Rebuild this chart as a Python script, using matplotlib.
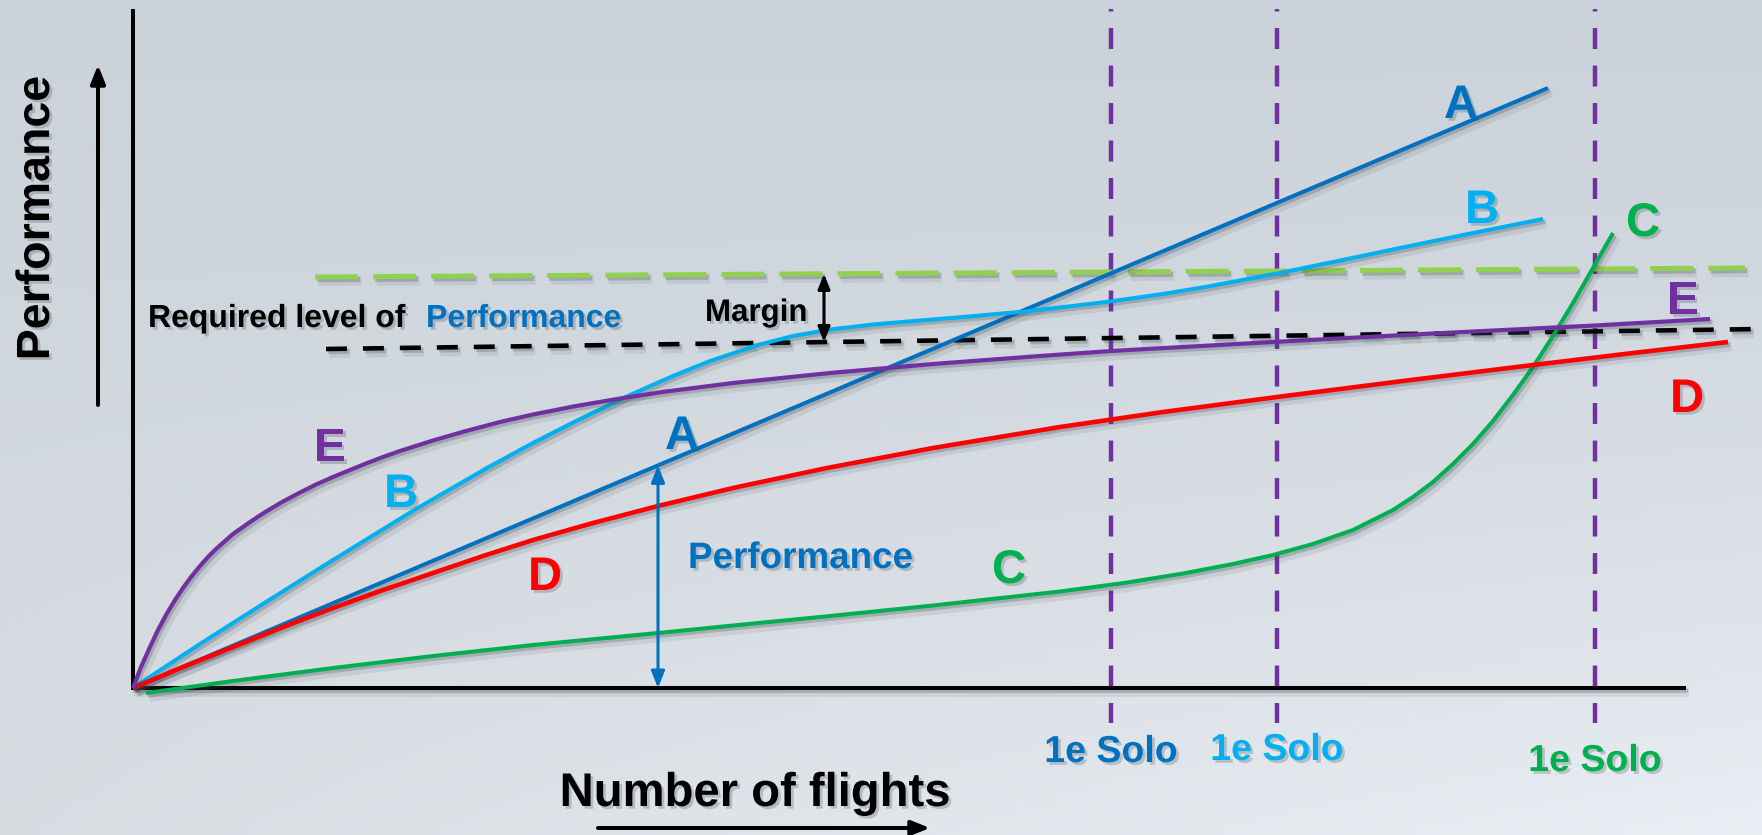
import numpy as np
import matplotlib
matplotlib.use("Agg")
import matplotlib.pyplot as plt
import matplotlib.patheffects as pe

plt.rcParams["font.family"] = ["Liberation Sans", "DejaVu Sans"]
plt.rcParams["font.weight"] = "bold"
plt.rcParams["lines.scale_dashes"] = False

# learning curves: number of flights (x) against performance (y), arbitrary units
a_x = [0, 1415]
a_y = [0, 600]

b_x = [0, 67, 133, 200, 283, 354, 400, 443, 497, 540, 577, 625, 660, 697, 740, 769, 830,
       897, 973, 1030, 1075, 1144, 1200, 1267, 1340, 1410]
b_y = [0, 44, 86, 128, 179, 220, 245, 267, 293, 312, 327, 343, 352, 358.5, 363.5, 366, 371,
       377, 386, 394, 401.5, 414.5, 426, 440, 455, 469]

c_x = [13, 100, 200, 300, 400, 525, 600, 697, 800, 927, 991, 1050, 1100, 1140, 1180, 1220,
       1260, 1280, 1300, 1320, 1340, 1360, 1380, 1400, 1420, 1440, 1460, 1480]
c_y = [-5, 7, 20, 32, 43, 55, 62.5, 72, 82.5, 96.5, 105, 114.5, 124, 133, 144, 158,
       178, 191, 206, 224, 244, 267, 293, 321, 352, 385, 420, 455]

d_x = [0, 50, 100, 150, 200, 250, 300, 350, 400, 460, 525, 600, 694, 800, 927, 1030,
       1144, 1270, 1400, 1500, 1595]
d_y = [0, 21, 41, 61, 80, 98, 115, 132, 148, 165, 182, 200, 220, 240, 261, 276,
       291, 307, 323, 335, 346]

e_x = [0, 8, 17, 25, 33, 42, 50, 58, 67, 75, 83, 100, 117, 133, 150, 167, 183, 200, 217,
       233, 250, 267, 300, 333, 367, 400, 443, 490, 533, 600, 697, 800, 900, 978, 1167,
       1300, 1462, 1577]
e_y = [0, 21, 41, 58, 73, 88, 100, 111, 122, 131, 139, 154, 166, 176.5, 186.5, 195.5, 203.5,
       211, 218, 224.5, 231, 237, 247.5, 257, 266, 273.5, 282, 290, 296.5, 305, 315, 324,
       331.5, 337, 347.5, 354.5, 362.5, 369]

# required level of performance, and required level plus margin
req_x = [193, 1629]
req_y = [339, 359]
marg_x = [182, 1612]
marg_y = [411, 420]

# first solo flight for curves A, B and C
solo_x = [978, 1144, 1462]
solo_labels = ["1e Solo", "1e Solo", "1e Solo"]

A_BLUE = "#0070c0"
B_BLUE = "#00b0f0"
C_GREEN = "#00b050"
D_RED = "#ff0000"
E_PURPLE = "#7030a0"
LIME = "#92d050"

fig = plt.figure(figsize=(17.62, 8.35), dpi=100)
ax = fig.add_axes([0, 0, 1, 1])
ax.set_xlim(-133, 1629)
ax.set_ylim(-147, 688)
ax.axis("off")

# sky backdrop, lighter towards the lower right
gx, gy = np.meshgrid(np.linspace(0, 1, 200), np.linspace(0, 1, 100))
top = np.array([0.795, 0.825, 0.855])
bottom = np.array([0.845, 0.865, 0.885])
sky = top + (bottom - top) * gy[..., None] + 0.07 * (gx * gy ** 2)[..., None]
ax.imshow(np.clip(sky, 0, 1), extent=(-133, 1629, -147, 688), aspect="auto",
          origin="upper", zorder=0)

shadow = [pe.SimpleLineShadow(offset=(2.5, -3), shadow_color="#3c4650", alpha=0.10, linewidth=7),
          pe.SimpleLineShadow(offset=(1.5, -2), shadow_color="#3c4650", alpha=0.25),
          pe.Normal()]
text_shadow = [pe.withSimplePatchShadow(offset=(2, -2), shadow_rgbFace="#3c4650", alpha=0.25)]

# axes
ax.plot([0, 0], [0, 679], color="black", lw=2.9, solid_capstyle="butt", zorder=3)
ax.plot([-2, 1553], [0, 0], color="black", lw=2.9, solid_capstyle="butt", zorder=3,
        path_effects=shadow)

# first solo markers
for x in solo_x:
    ax.plot([x, x], [679, -35], color=E_PURPLE, lw=3.2,
            linestyle=(13.3, (15.1, 11.9)), zorder=2)

# required level and margin
ax.plot(marg_x, marg_y, color=LIME, lw=3.6, linestyle=(0, (31, 10.8)),
        zorder=4, path_effects=shadow)
ax.plot(req_x, req_y, color="black", lw=3.3, linestyle=(0, (15.1, 11.5)),
        zorder=4, path_effects=shadow)

curves = [(a_x, a_y, A_BLUE, 2.9), (b_x, b_y, B_BLUE, 2.9), (c_x, c_y, C_GREEN, 2.9),
          (d_x, d_y, D_RED, 3.3), (e_x, e_y, E_PURPLE, 3.0)]
for xs, ys, col, lw in curves:
    ax.plot(xs, ys, color=col, lw=lw, solid_capstyle="butt", solid_joinstyle="round",
            zorder=5, path_effects=shadow)

# curve letters
letters = [("A", 1328, 570, A_BLUE), ("A", 549, 239, A_BLUE),
           ("B", 1349, 465, B_BLUE), ("B", 268, 181, B_BLUE),
           ("C", 1510, 452, C_GREEN), ("C", 876, 105, C_GREEN),
           ("D", 1554, 276, D_RED), ("D", 412, 98, D_RED),
           ("E", 1550, 374, E_PURPLE), ("E", 197, 227, E_PURPLE)]
for s, x, y, col in letters:
    ax.text(x, y, s, color=col, fontsize=34, ha="center", va="baseline",
            zorder=6, path_effects=text_shadow)


def arrow(x0, y0, x1, y1, style, color, lw):
    ax.annotate("", xy=(x1, y1), xytext=(x0, y0), zorder=6,
                arrowprops=dict(arrowstyle=style, color=color, lw=lw,
                                shrinkA=0, shrinkB=0, mutation_scale=20))


# axis arrows and titles
arrow(-35, 283, -35, 623, "-|>,head_length=0.55,head_width=0.22", "black", 2.9)
arrow(465, -140, 797, -140, "-|>,head_length=0.55,head_width=0.22", "black", 2.9)
ax.text(-96, 470, "Performance", rotation=90, fontsize=33.5, ha="center", va="center",
        path_effects=text_shadow)
ax.text(622, -118, "Number of flights", fontsize=34, ha="center", va="baseline",
        path_effects=text_shadow)

# performance of A at one moment
px = 525
arrow(px, 0, px, np.interp(px, a_x, a_y), "<|-|>,head_length=0.5,head_width=0.2", A_BLUE, 2.2)
ax.text(555, 120, "Performance", color=A_BLUE, fontsize=26.5, ha="left", va="baseline",
        path_effects=text_shadow)

# margin between required level and required level plus margin
mx = 691
arrow(mx, np.interp(mx, req_x, req_y), mx, np.interp(mx, marg_x, marg_y),
      "<|-|>,head_length=0.45,head_width=0.18", "black", 2.2)
ax.text(572, 367, "Margin", fontsize=22.5, ha="left", va="baseline", path_effects=text_shadow)
ax.text(15, 361, "Required level of", fontsize=23, ha="left", va="baseline",
        path_effects=text_shadow)
ax.text(293, 361, "Performance", color=A_BLUE, fontsize=23, ha="left", va="baseline",
        path_effects=text_shadow)

# first solo labels
for x, y, s, col in zip(solo_x, [-74, -72, -83], solo_labels, [A_BLUE, B_BLUE, C_GREEN]):
    ax.text(x, y, s, color=col, fontsize=27, ha="center", va="baseline",
            path_effects=text_shadow)

fig.savefig("out.png", dpi=100)
